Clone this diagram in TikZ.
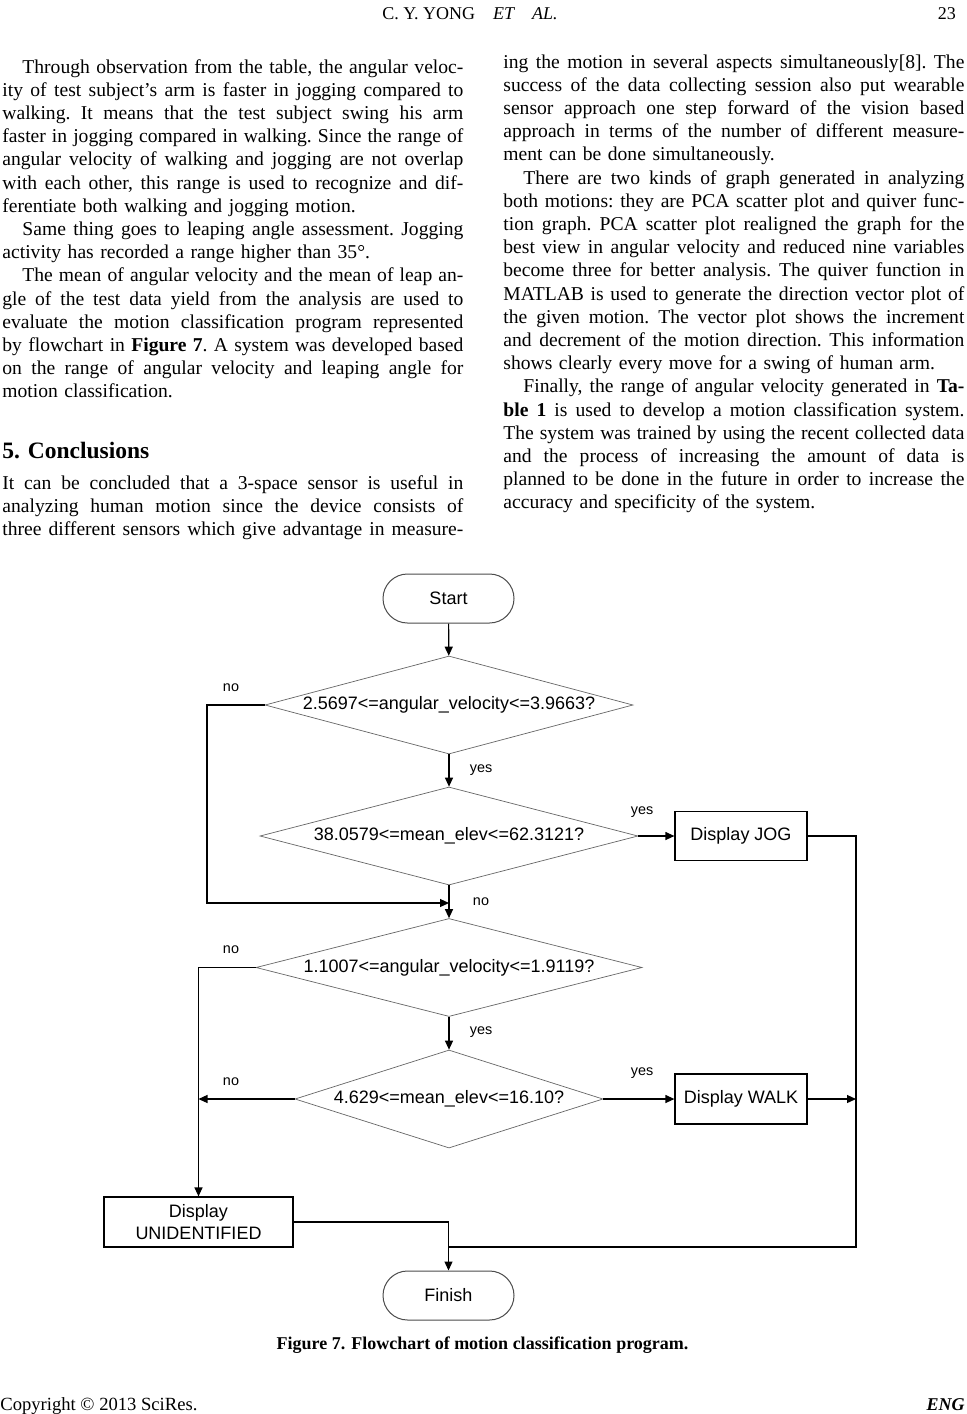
\documentclass[tikz,border=0pt]{standalone}
\usepackage{fontspec}
\setmainfont{Liberation Serif}
\newfontfamily\chartfont{Liberation Sans}
\usetikzlibrary{shapes.geometric, arrows.meta}
\newlength\colwd
\setlength\colwd{230.5pt}
\newcommand{\jl}[1]{\leavevmode\hbox to \colwd{\spaceskip=0.25em plus 1em minus 0.1em\xspaceskip=\spaceskip #1}}

\begin{document}
\begin{tikzpicture}[x=0.5pt, y=-0.5pt,
  body/.style={anchor=base west, inner sep=0pt, text width=\colwd, align=left, font=\fontsize{9.8}{11.6}\selectfont\frenchspacing},
  terminal/.style={draw=black!70, line width=0.5pt, rounded corners=12.25pt, minimum width=65.5pt, minimum height=24.5pt, inner sep=0pt, font=\chartfont\fontsize{9}{11}\selectfont},
  decision/.style={diamond, draw=black!60, line width=0.35pt, inner sep=0pt, minimum height=49pt, font=\chartfont\fontsize{9}{11}\selectfont},
  procbox/.style={draw, line width=0.6pt, minimum width=66pt, minimum height=24.5pt, inner sep=0pt, align=center, font=\chartfont\fontsize{9}{11}\selectfont},
  conn/.style={line width=0.6pt, -{Triangle[length=4.5pt,width=4pt]}},
  wire/.style={line width=0.6pt},
  lab/.style={font=\chartfont\fontsize{7.2}{8}\selectfont, inner sep=0pt}]
  \useasboundingbox (0,0) rectangle (967,1414);
  \fill[white] (0,0) rectangle (967,1414);

  \node[font=\fontsize{9}{11}\selectfont] (hdr) at (470,14) {C. Y. YONG\enspace\enspace\textit{ET\enspace\enspace AL.}};
  \node[font=\fontsize{9}{11}\selectfont, anchor=east] (pageno) at (963,14) {23};

  \node[body] (colA) at (2,73) {%
    \jl{\hspace{10pt}Through observation from the table, the angular veloc-}\\
    \jl{ity of test subject’s arm is faster in jogging compared to}\\
    \jl{walking. It means that the test subject swing his arm}\\
    \jl{faster in jogging compared in walking. Since the range of}\\
    \jl{angular velocity of walking and jogging are not overlap}\\
    \jl{with each other, this range is used to recognize and dif-}\\
    ferentiate both walking and jogging motion.\\
    \jl{\hspace{10pt}Same thing goes to leaping angle assessment. Jogging}\\
    activity has recorded a range higher than 35°.\\
    \jl{\hspace{10pt}The mean of angular velocity and the mean of leap an-}\\
    \jl{gle of the test data yield from the analysis are used to}\\
    \jl{evaluate the motion classification program represented}\\
    \jl{by flowchart in \textbf{Figure 7}. A system was developed based}\\
    \jl{on the range of angular velocity and leaping angle for}\\
    motion classification.};
  \node[anchor=base west, inner sep=0pt, font=\bfseries\fontsize{11.75}{14}\selectfont] (sec) at (2,458) {5. Conclusions};
  \node[body] (colB) at (2,489) {%
    \jl{It can be concluded that a 3-space sensor is useful in}\\
    \jl{analyzing human motion since the device consists of}\\
    \jl{three different sensors which give advantage in measure-}};

  \node[body] (colC) at (503,68) {%
    \jl{ing the motion in several aspects simultaneously[8]. The}\\
    \jl{success of the data collecting session also put wearable}\\
    \jl{sensor approach one step forward of the vision based}\\
    \jl{approach in terms of the number of different measure-}\\
    ment can be done simultaneously.\\
    \jl{\hspace{10pt}There are two kinds of graph generated in analyzing}\\
    \jl{both motions: they are PCA scatter plot and quiver func-}\\
    \jl{tion graph. PCA scatter plot realigned the graph for the}\\
    \jl{best view in angular velocity and reduced nine variables}\\
    \jl{become three for better analysis. The quiver function in}\\
    \jl{MATLAB is used to generate the direction vector plot of}\\
    \jl{the given motion. The vector plot shows the increment}\\
    \jl{and decrement of the motion direction. This information}\\
    shows clearly every move for a swing of human arm.\\
    \jl{\hspace{10pt}Finally, the range of angular velocity generated in \textbf{Ta-}}\\
    \jl{\textbf{ble 1} is used to develop a motion classification system.}\\
    \jl{The system was trained by using the recent collected data}\\
    \jl{and the process of increasing the amount of data is}\\
    \jl{planned to be done in the future in order to increase the}\\
    accuracy and specificity of the system.};

  \node[terminal] (start) at (448.5,598.5) {Start};
  \node[decision, minimum width=184pt] (d1) at (449,705) {\makebox[0pt]{2.5697<=angular\_velocity<=3.9663?}};
  \node[decision, minimum width=189pt] (d2) at (449,836) {\makebox[0pt]{38.0579<=mean\_elev<=62.3121?}};
  \node[decision, minimum width=193pt] (d3) at (449,967.5) {\makebox[0pt]{1.1007<=angular\_velocity<=1.9119?}};
  \node[decision, minimum width=154pt] (d4) at (449,1099) {\makebox[0pt]{4.629<=mean\_elev<=16.10?}};
  \node[procbox] (jog) at (741,836) {Display JOG};
  \node[procbox, minimum height=25pt] (walk) at (741,1099) {Display WALK};
  \node[procbox, minimum width=94.5pt, minimum height=25pt] (unid) at (198.5,1222) {Display\\UNIDENTIFIED};
  \node[terminal] (finish) at (448.5,1295.5) {Finish};

  \coordinate (loop) at (207,903);
  \coordinate (merge) at (449,903);
  \coordinate (rail) at (856,1247);

  \draw[conn] (start) -- (d1);
  \draw[conn] (d1.west) -| (loop) -- (merge);
  \draw[conn] (d1) -- (d2);
  \draw[conn] (d2.east) -- (jog.west);
  \draw[conn] (d2) -- (d3);
  \draw[conn] (d3.west) -| (unid.north);
  \draw[conn] (d3) -- (d4);
  \draw[conn] (d4.west) -- (d4.west -| unid.north);
  \draw[conn] (d4.east) -- (walk.west);
  \draw[conn] (walk.east) -- (walk.east -| rail);
  \draw[wire] (jog.east) -| (rail) -- (rail -| finish.north);
  \draw[conn] (unid.east) -| (finish.north);

  \node[lab] (no1) at (231,688) {no};
  \node[lab] (yes1) at (481,770) {yes};
  \node[lab] (yes2) at (642,812) {yes};
  \node[lab] (no2) at (481,902) {no};
  \node[lab] (no3) at (231,950) {no};
  \node[lab] (yes3) at (481,1032) {yes};
  \node[lab] (no4) at (231,1082) {no};
  \node[lab] (yes4) at (642,1073) {yes};

  \node[font=\bfseries\fontsize{9}{11}\selectfont] (caption) at (482.5,1345) {Figure 7. Flowchart of motion classification program.};
  \node[anchor=base west, inner sep=0pt, font=\fontsize{9.3}{11}\selectfont] (copy) at (0,1410) {Copyright © 2013 SciRes.};
  \node[anchor=base east, inner sep=0pt, font=\bfseries\itshape\fontsize{9}{11}\selectfont] (journal) at (965,1410) {ENG};
\end{tikzpicture}
\end{document}
